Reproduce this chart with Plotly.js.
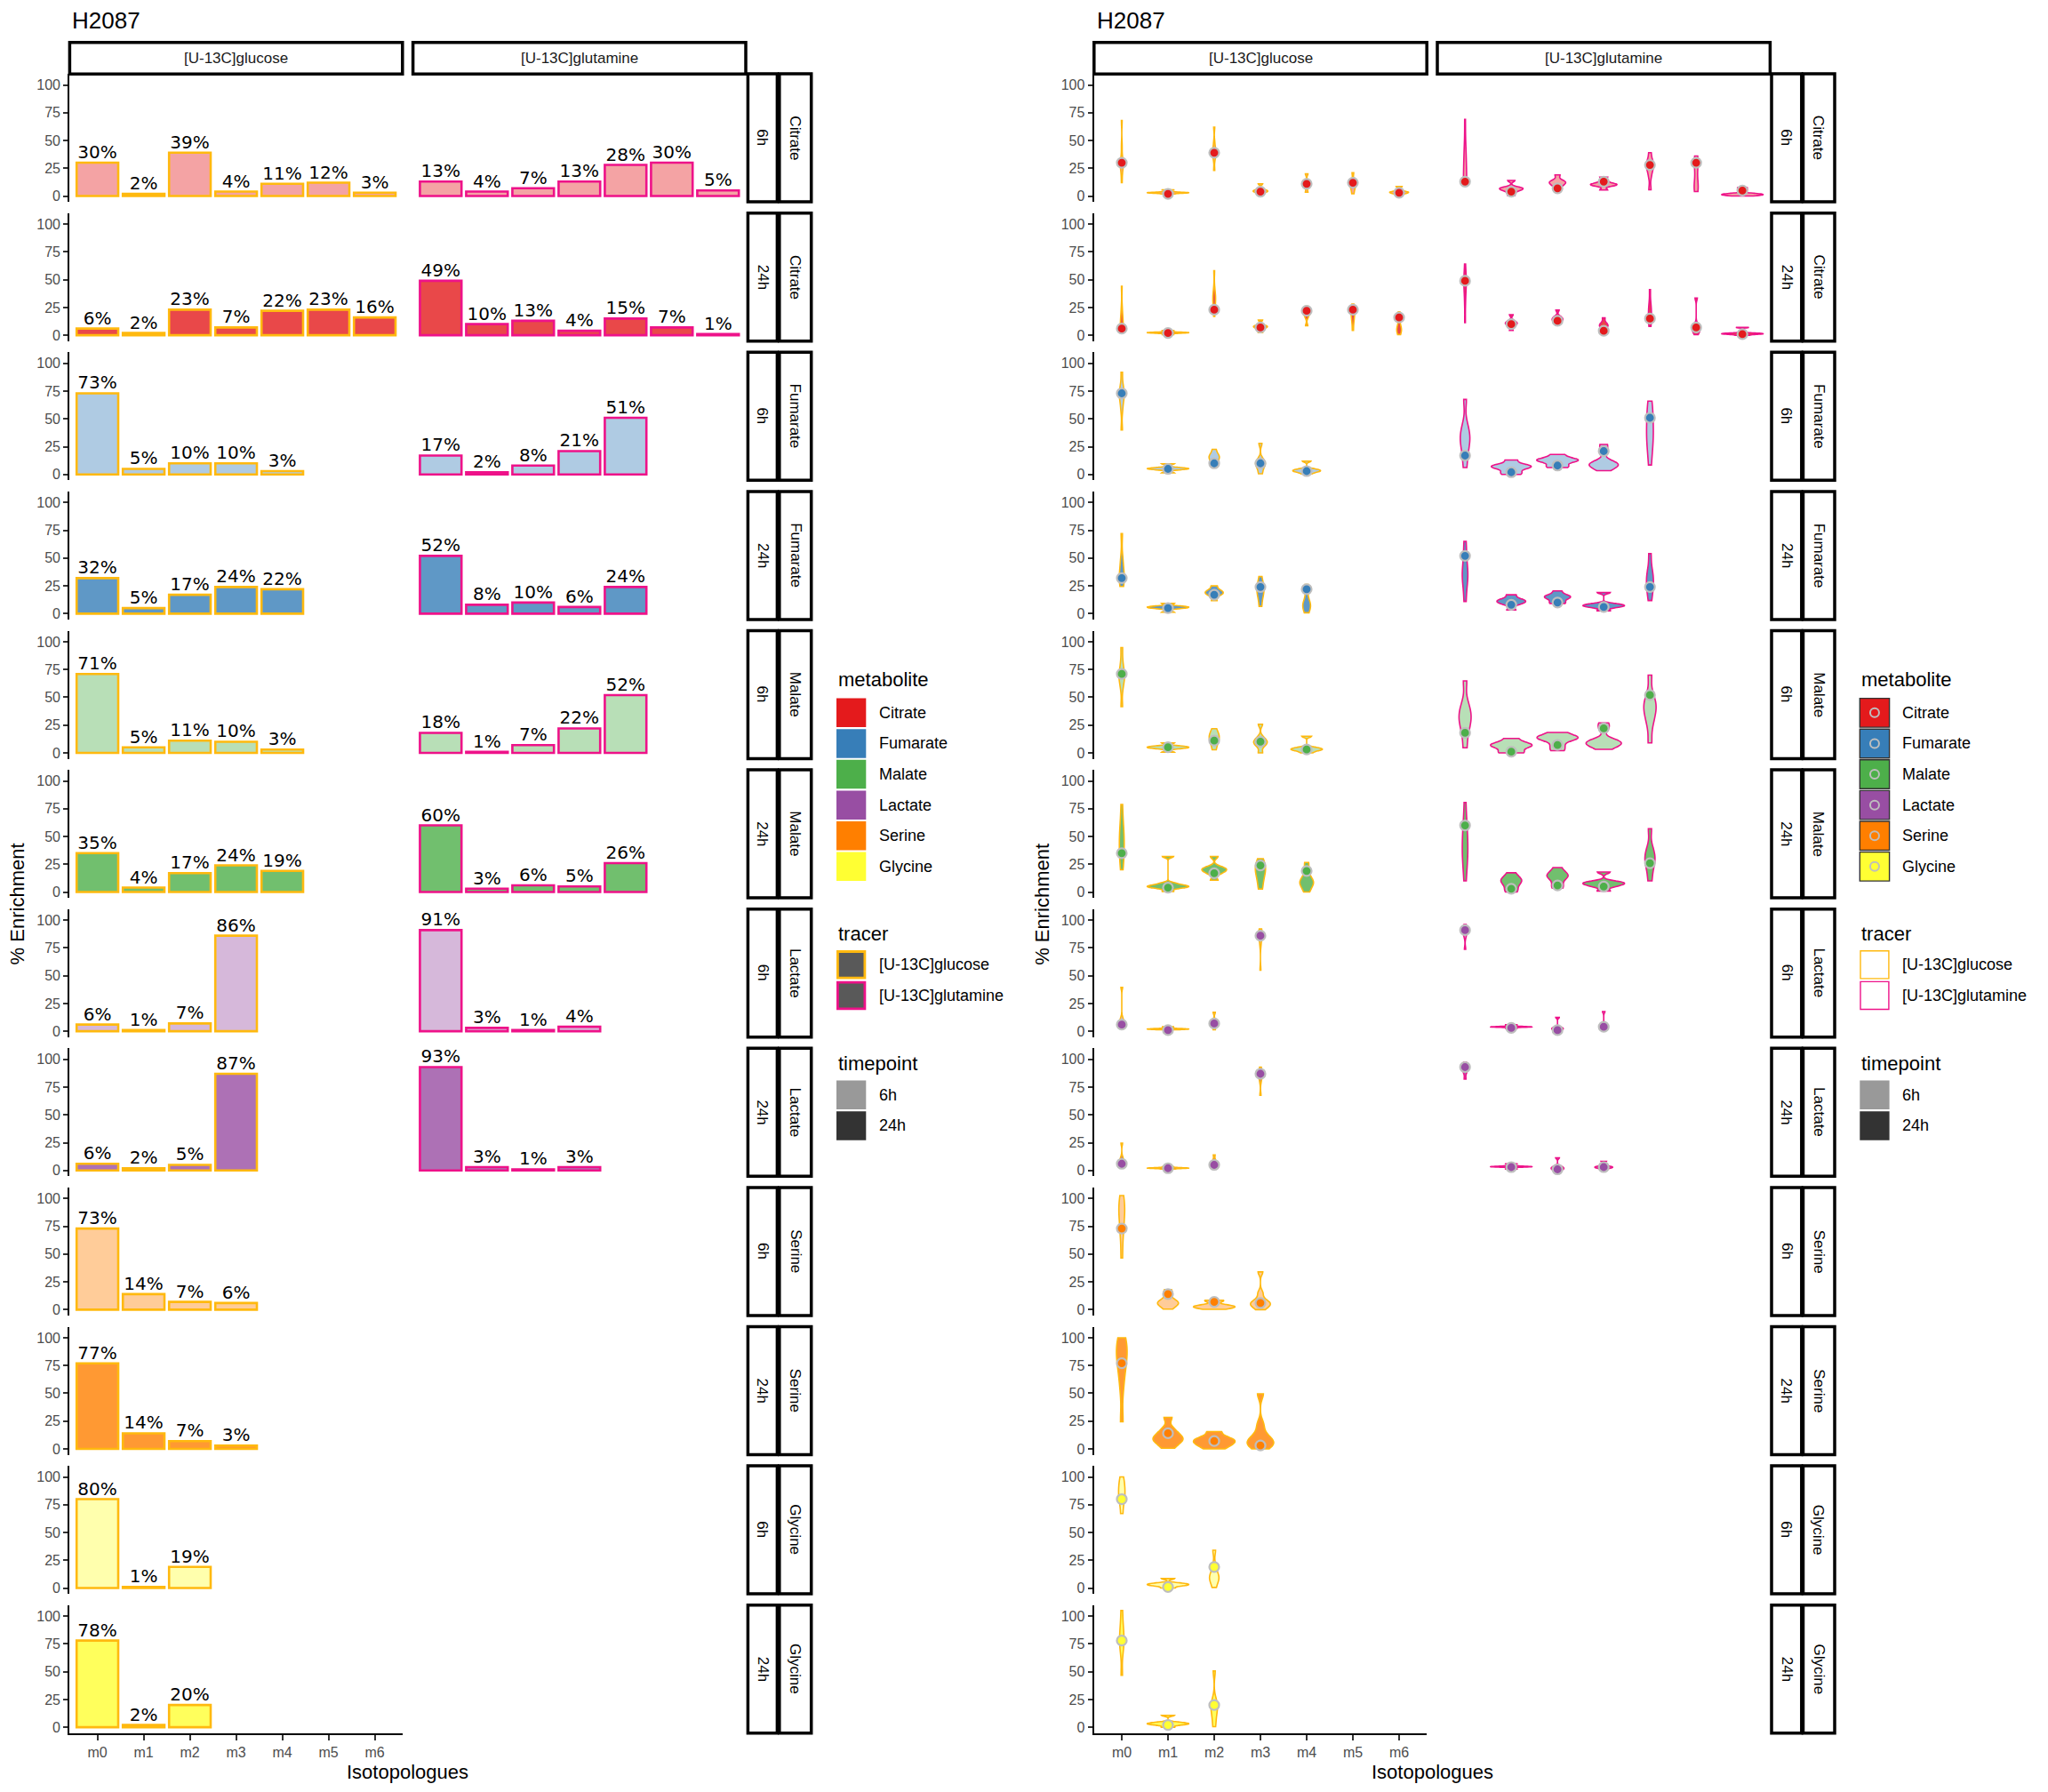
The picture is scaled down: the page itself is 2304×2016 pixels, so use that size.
<!DOCTYPE html>
<html>
<head>
<meta charset="utf-8">
<script src="https://cdn.plot.ly/plotly-3.0.1.min.js"></script>
<style>body{margin:0;background:#fff}</style>
</head>
<body>
<div id="chart" style="width:2304px;height:2016px"></div>
<script>
const isotopologues = ['m0', 'm1', 'm2', 'm3', 'm4', 'm5', 'm6'];
const metabolites = ['Citrate', 'Fumarate', 'Malate', 'Lactate', 'Serine', 'Glycine'];
const timepoints = ['6h', '24h'];
const tracers = ['[U-13C]glucose', '[U-13C]glutamine'];

// mean % enrichment per isotopologue (bar heights / dots)
const citrate6hGlucose = [30, 2, 39, 4, 11, 12, 3];
const citrate6hGlutamine = [13, 4, 7, 13, 28, 30, 5];
const citrate24hGlucose = [6, 2, 23, 7, 22, 23, 16];
const citrate24hGlutamine = [49, 10, 13, 4, 15, 7, 1];
const fumarate6hGlucose = [73, 5, 10, 10, 3];
const fumarate6hGlutamine = [17, 2, 8, 21, 51];
const fumarate24hGlucose = [32, 5, 17, 24, 22];
const fumarate24hGlutamine = [52, 8, 10, 6, 24];
const malate6hGlucose = [71, 5, 11, 10, 3];
const malate6hGlutamine = [18, 1, 7, 22, 52];
const malate24hGlucose = [35, 4, 17, 24, 19];
const malate24hGlutamine = [60, 3, 6, 5, 26];
const lactate6hGlucose = [6, 1, 7, 86];
const lactate6hGlutamine = [91, 3, 1, 4];
const lactate24hGlucose = [6, 2, 5, 87];
const lactate24hGlutamine = [93, 3, 1, 3];
const serine6hGlucose = [73, 14, 7, 6];
const serine24hGlucose = [77, 14, 7, 3];
const glycine6hGlucose = [80, 1, 19];
const glycine24hGlucose = [78, 2, 20];

// replicate values, one list per isotopologue
const citrate6hGlucoseReps = [[12, 22, 26, 29, 30, 33, 45, 68], [1.8, 2.5, 2.8, 3, 3.2, 3.5, 5.5], [23, 33, 37, 39, 40, 42, 48, 62], [0.6, 3, 4, 4.5, 5, 6, 11], [3.4, 8, 10, 11.5, 12, 13, 20], [2, 6, 8, 10, 12, 13, 21], [0.6, 2, 2.8, 3.2, 3.7, 4.2, 8.5]];
const citrate6hGlutamineReps = [[9, 12, 13, 20, 30, 35, 45, 69], [0.5, 4, 5.5, 6.5, 7, 8, 14], [4, 8, 10.5, 12, 12.5, 14, 19], [5.4, 9, 10, 10.5, 11, 13, 17], [5.6, 18, 24, 27, 29, 31, 39], [4, 7, 9, 11, 25, 30, 32, 36], [0, 0.8, 1.2, 1.5, 1.8, 2.2, 5.6, 7.6]];
const citrate24hGlucoseReps = [[2.8, 6, 8, 11, 14, 18, 25, 44], [0.6, 1.8, 2.1, 2.3, 2.5, 2.8, 4.3], [17, 23.6, 28, 32, 34, 36, 42, 58], [2.3, 6, 7, 7.7, 8.2, 9, 13.6], [8.5, 16, 19, 20, 21, 22, 26], [4.3, 12, 16, 19, 22, 23.3, 28], [0.6, 3, 4.5, 5.5, 7, 10, 17, 21]];
const citrate24hGlutamineReps = [[11.4, 28, 38, 44, 48, 50, 55, 64], [4.3, 8.5, 10, 10.8, 11.5, 13, 18.5], [9, 12.5, 13.4, 14.5, 15.5, 17, 22.7], [1.4, 4.3, 7, 8.5, 9.5, 10.5, 15.6], [8, 13, 15, 20, 24, 28, 41], [0.6, 3, 4.5, 6, 7.1, 10, 33.5], [0, 0.8, 1.1, 1.4, 1.6, 2, 7]];
const fumarate6hGlucoseReps = [[40, 58, 66, 70, 72.6, 75, 80, 92], [1.4, 4.2, 4.8, 5.2, 5.6, 6.2, 9.6], [6.2, 9.9, 13, 15, 16.5, 18, 22.6], [0.6, 5, 8, 9.9, 11, 14, 28], [0.5, 2.2, 2.8, 3.5, 4.2, 5, 12]];
const fumarate6hGlutamineReps = [[6.2, 17, 25, 30, 34, 38, 45, 67.5], [0, 2, 5.5, 6.8, 7.6, 8.5, 13], [6.2, 8, 11.5, 12.5, 13.2, 14.5, 18], [3.4, 6.5, 8, 9, 10, 12, 21, 27], [8.5, 22, 30, 36, 42, 51, 58, 66]];
const fumarate24hGlucoseReps = [[24.5, 29, 31.6, 36, 42, 50, 72], [1.3, 4.6, 5.2, 5.8, 6.2, 6.8, 9.2], [11.8, 16.5, 17.6, 19, 20, 21.5, 25], [6.6, 14, 18, 21, 24.2, 27, 33.4], [0.8, 5, 7, 9, 11, 22.4, 26.3]];
const fumarate24hGlutamineReps = [[11, 25, 32, 36, 42, 52, 65], [3.4, 8.4, 10, 11, 12, 13.5, 17], [9.2, 10, 13.5, 14.8, 15.5, 16.5, 20.5], [2.6, 5.5, 6.6, 7.2, 8, 9, 19], [11.8, 20, 24.5, 30, 34, 40, 54]];
const malate6hGlucoseReps = [[41.6, 58, 65, 68, 70.8, 74, 82, 94.7], [0.5, 3.8, 4.5, 5, 5.5, 6.2, 9], [2.7, 8, 10.6, 13.5, 15.5, 17.5, 21.8], [0, 6, 8.5, 9.8, 11, 14, 25.7], [0, 1.8, 2.7, 3.3, 4, 5, 14.9]];
const malate6hGlutamineReps = [[4.5, 17.8, 25, 30, 34, 38, 45, 64.7], [0, 0.5, 5, 6.5, 7.5, 8.5, 13], [1.9, 6.4, 11.5, 13, 14, 15, 18.3], [3.2, 6.5, 8, 9, 10, 12, 21.8, 27], [9, 25, 33, 38, 42, 46, 51.7, 70]];
const malate24hGlucoseReps = [[20, 30, 35.4, 42, 48, 55, 62, 78.7], [0.5, 3.5, 4.3, 5, 5.5, 6.3, 8, 32], [10.6, 16.5, 18.5, 20, 21, 22.5, 32], [2.7, 10, 15, 19, 22, 24.7, 30], [0, 4.5, 7, 8.8, 10.5, 13, 19.4, 26.6]];
const malate24hGlutamineReps = [[10, 25, 32, 38, 45, 55, 60.6, 80.6], [0, 2.1, 7, 9.5, 11, 12.5, 17.3], [3.5, 6.1, 12, 14, 15.5, 17, 22], [0.8, 4.8, 6.5, 7.5, 8.5, 9.5, 18], [10, 20, 26.6, 30, 34, 40, 57]];
const lactate6hGlucoseReps = [[3.4, 5.5, 6.6, 7.5, 9, 12, 39.5], [1.3, 1.7, 1.8, 2, 2.2, 2.5, 4], [1.3, 5, 6.5, 7.4, 8.5, 10, 17], [55, 78, 83, 86, 88, 90, 92]];
const lactate6hGlutamineReps = [[73.7, 85, 88, 90, 91.3, 93, 96], [2.6, 3.6, 3.8, 3.9, 4.1, 4.4, 5.8], [0, 1.2, 1.8, 2.5, 3, 4, 12.4], [0.8, 2.5, 3.5, 4.2, 5.3, 6.5, 17.6]];
const lactate24hGlucoseReps = [[2.9, 5.5, 6.6, 7.5, 9, 12, 24.6], [1.3, 1.8, 2, 2.1, 2.3, 2.6, 3.4], [1.3, 4, 4.8, 6, 7.5, 9, 14], [67.7, 80, 84, 86, 87.3, 89, 93]];
const lactate24hGlutamineReps = [[82.3, 88, 90, 92, 93, 94.5, 97.4], [1.3, 3, 3.3, 3.4, 3.6, 4, 6], [0, 1, 1.6, 2.3, 3, 4, 11.4], [0, 1.8, 2.5, 2.9, 3.3, 4, 8.2]];
const serine6hGlucoseReps = [[46.5, 65, 74, 82, 88, 92, 96, 102.7], [0.5, 3.5, 5, 6, 7.5, 9, 14.4, 18], [0.3, 1.5, 2.2, 2.8, 3.4, 4.2, 7.8, 8.5], [0, 3, 4.5, 5.5, 6.4, 9, 15, 34]];
const serine24hGlucoseReps = [[24.4, 55, 70, 77.5, 84, 90, 95, 100], [0.5, 5, 7.5, 9, 11, 13.8, 18, 28.4], [0, 3, 5, 6.9, 8.5, 10.5, 15.6], [0, 3.2, 5, 6.5, 8.5, 13, 22, 49.6]];
const glycine6hGlucoseReps = [[67, 78, 80.9, 86, 90, 94, 100], [0, 1.9, 2.6, 3.2, 3.8, 4.5, 8.5], [0.5, 6, 8.5, 10.5, 13, 19.7, 34]];
const glycine24hGlucoseReps = [[46.7, 68, 75, 78.7, 85, 92, 105], [0, 2, 2.7, 3.2, 3.8, 4.5, 10.7], [0.5, 8, 14, 18, 20, 25, 50.7]];

// lookup tables: [metabolite][timepoint][tracer]
const barTable = [
  [[citrate6hGlucose, citrate6hGlutamine], [citrate24hGlucose, citrate24hGlutamine]],
  [[fumarate6hGlucose, fumarate6hGlutamine], [fumarate24hGlucose, fumarate24hGlutamine]],
  [[malate6hGlucose, malate6hGlutamine], [malate24hGlucose, malate24hGlutamine]],
  [[lactate6hGlucose, lactate6hGlutamine], [lactate24hGlucose, lactate24hGlutamine]],
  [[serine6hGlucose, null], [serine24hGlucose, null]],
  [[glycine6hGlucose, null], [glycine24hGlucose, null]]
];
const repTable = [
  [[citrate6hGlucoseReps, citrate6hGlutamineReps], [citrate24hGlucoseReps, citrate24hGlutamineReps]],
  [[fumarate6hGlucoseReps, fumarate6hGlutamineReps], [fumarate24hGlucoseReps, fumarate24hGlutamineReps]],
  [[malate6hGlucoseReps, malate6hGlutamineReps], [malate24hGlucoseReps, malate24hGlutamineReps]],
  [[lactate6hGlucoseReps, lactate6hGlutamineReps], [lactate24hGlucoseReps, lactate24hGlutamineReps]],
  [[serine6hGlucoseReps, null], [serine24hGlucoseReps, null]],
  [[glycine6hGlucoseReps, null], [glycine24hGlucoseReps, null]]
];

const metaboliteColors = ['#E41A1C', '#377EB8', '#4DAF4A', '#984EA3', '#FF7F00', '#FFFF33'];
const tracerColors = ['#FFB90F', '#EE1289'];
const timeAlpha = [0.4, 0.8];

const FONT = 'Liberation Sans, Arial, Helvetica, sans-serif';
const W = 2304, H = 2016;
const px = x => x / W;
const py = y => 1 - y / H;

// blend a colour with white, like ggplot alpha on a white background
function fade(hex, a) {
  const n = parseInt(hex.slice(1), 16);
  const ch = [(n >> 16) & 255, (n >> 8) & 255, n & 255].map(v => Math.round(v * a + 255 * (1 - a)));
  return 'rgb(' + ch.join(',') + ')';
}

// R's bw.nrd0, so the violins get the same kernel width as geom_violin
function nrd0(v) {
  const s = v.slice().sort((a, b) => a - b);
  const n = s.length;
  const mean = s.reduce((a, b) => a + b, 0) / n;
  const sd = Math.sqrt(s.reduce((a, b) => a + (b - mean) * (b - mean), 0) / (n - 1));
  const q = f => { const h = (n - 1) * f, lo = Math.floor(h); return s[lo] + (h - lo) * ((s[lo + 1] !== undefined ? s[lo + 1] : s[lo]) - s[lo]); };
  let lo = Math.min(sd, (q(0.75) - q(0.25)) / 1.34);
  if (!(lo > 0)) lo = sd || Math.abs(s[0]) || 1;
  return 0.9 * lo * Math.pow(n, -0.2);
}

const rowTop = r => 83.1 + 156.6 * r;
const rowH = 144;
const panelCols = [[[78.4, 452.8], [464.6, 839.0]], [[1230.8, 1605.2], [1617.0, 1991.4]]];
const stripCols = [[[841.4, 874.4], [876.8, 912.7]], [[1993.0, 2026.8], [2028.5, 2064.0]]];

const layout = {
  width: W, height: H,
  margin: {l: 0, r: 0, t: 0, b: 0},
  showlegend: false,
  paper_bgcolor: 'white',
  plot_bgcolor: 'white',
  font: {family: FONT, color: 'black'},
  violingap: 0.1,
  violingroupgap: 0,
  violinmode: 'overlay',
  bargap: 0.1,
  shapes: [],
  annotations: []
};
const traces = [];

function rect(x0, y0, x1, y1, line, fill, lw) {
  layout.shapes.push({type: 'rect', xref: 'paper', yref: 'paper', x0: px(x0), x1: px(x1), y0: py(y1), y1: py(y0),
    line: {color: line, width: lw}, fillcolor: fill, layer: 'above'});
}
function label(text, x, y, size, opts) {
  layout.annotations.push(Object.assign({text: text, x: px(x), y: py(y), xref: 'paper', yref: 'paper',
    showarrow: false, font: {size: size, color: 'black', family: FONT}, xanchor: 'center', yanchor: 'middle'}, opts || {}));
}

for (let p = 0; p < 2; p++) {
  for (let r = 0; r < 12; r++) {
    const m = Math.floor(r / 2), t = r % 2;
    const top = rowTop(r);
    const bottom = r === 11;
    for (let c = 0; c < 2; c++) {
      const k = p * 24 + r * 2 + c + 1;
      const sfx = k === 1 ? '' : String(k);
      const [x0, x1] = panelCols[p][c];
      layout['xaxis' + sfx] = {
        domain: [px(x0), px(x1)], anchor: 'y' + sfx,
        type: 'category', categoryorder: 'array', categoryarray: isotopologues,
        range: [-0.6, 6.6], showgrid: false, zeroline: false, fixedrange: true,
        showline: bottom, linecolor: 'black', linewidth: 2.2,
        ticks: bottom ? 'outside' : '', ticklen: 6, tickwidth: 2, tickcolor: '#333333',
        showticklabels: bottom, tickfont: {size: 16, color: '#4D4D4D', family: FONT}
      };
      layout['yaxis' + sfx] = {
        domain: [py(top + rowH), py(top)], anchor: 'x' + sfx,
        range: [-5.24, 109.95], tickvals: [0, 25, 50, 75, 100],
        showgrid: false, zeroline: false, fixedrange: true,
        showline: c === 0, linecolor: 'black', linewidth: 2.2,
        ticks: c === 0 ? 'outside' : '', ticklen: 5, tickwidth: 2, tickcolor: '#333333',
        showticklabels: c === 0, tickfont: {size: 16, color: '#4D4D4D', family: FONT}
      };

      const vals = barTable[m][t][c];
      if (!vals) continue;
      const cats = isotopologues.slice(0, vals.length);
      const fill = fade(metaboliteColors[m], timeAlpha[t]);
      const xr = 'x' + sfx, yr = 'y' + sfx;

      if (p === 0) {
        traces.push({
          type: 'bar', x: cats, y: vals, width: 0.9, xaxis: xr, yaxis: yr, hoverinfo: 'skip',
          marker: {color: fill, line: {color: tracerColors[c], width: 2.6}}
        });
        traces.push({
          type: 'scatter', mode: 'text', x: cats, y: vals, xaxis: xr, yaxis: yr, hoverinfo: 'skip',
          text: vals.map(v => v + '%'), textposition: 'top center', cliponaxis: false,
          textfont: {size: 20, color: 'black', family: 'DejaVu Sans, ' + FONT}
        });
      } else {
        const reps = repTable[m][t][c];
        // one trace per violin so each gets its own bandwidth; the panel shares one scale group
        reps.forEach((arr, i) => {
          traces.push({
            type: 'violin', x: arr.map(() => isotopologues[i]), y: arr, xaxis: xr, yaxis: yr, hoverinfo: 'skip',
            name: 'v' + k + '_' + i, scalegroup: 'g' + k, scalemode: 'width', spanmode: 'hard',
            bandwidth: nrd0(arr),
            points: false, box: {visible: false}, meanline: {visible: false},
            fillcolor: fill, line: {color: tracerColors[c], width: 1.6}
          });
        });
        traces.push({
          type: 'scatter', mode: 'markers', x: cats, y: vals, xaxis: xr, yaxis: yr, hoverinfo: 'skip',
          cliponaxis: false,
          marker: {size: 11, color: metaboliteColors[m], line: {color: '#BEBEBE', width: 2.2}}
        });
      }
    }
    // right-hand facet strips
    const [s0, s1] = stripCols[p];
    rect(s0[0], top, s0[1], top + rowH, 'black', 'white', 3.5);
    rect(s1[0], top, s1[1], top + rowH, 'black', 'white', 3.5);
    label(timepoints[t], (s0[0] + s0[1]) / 2, top + rowH / 2, 17, {textangle: 90});
    label(metabolites[m], (s1[0] + s1[1]) / 2, top + rowH / 2, 17, {textangle: 90});
  }

  // top facet strips
  for (let c = 0; c < 2; c++) {
    const [x0, x1] = panelCols[p][c];
    rect(x0, 47.7, x1, 83.3, 'black', 'white', 3.5);
    label(tracers[c], (x0 + x1) / 2, 65.5, 17, {font: {size: 17, color: '#1A1A1A', family: FONT}});
  }

  const left = panelCols[p][0][0];
  const right = panelCols[p][1][1];
  label('H2087', left + 1, 23, 26, {xanchor: 'left'});
  label('% Enrichment', left - 59, 1017, 22, {textangle: -90});
  label('Isotopologues', (left + right) / 2, 1993, 22);

  // legends
  const lx = p === 0 ? 941 : 2092.3;
  const tx = p === 0 ? 986.7 : 2138.3;
  const kw = 33.3, kh = 32.5, pitch = 34.6;
  label('metabolite', lx, 764, 22, {xanchor: 'left'});
  metabolites.forEach((name, i) => {
    const y0 = 785.6 + pitch * i;
    if (p === 0) {
      rect(lx, y0, lx + kw, y0 + kh, 'rgba(0,0,0,0)', metaboliteColors[i], 0);
    } else {
      rect(lx, y0, lx + kw, y0 + kh, '#333333', metaboliteColors[i], 1.4);
      const cx = lx + kw / 2, cy = y0 + kh / 2;
      layout.shapes.push({type: 'circle', xref: 'paper', yref: 'paper', x0: px(cx - 5), x1: px(cx + 5),
        y0: py(cy + 5), y1: py(cy - 5), line: {color: '#BEBEBE', width: 2}, fillcolor: 'rgba(0,0,0,0)', layer: 'above'});
    }
    label(name, tx, y0 + kh / 2, 18, {xanchor: 'left'});
  });
  label('tracer', lx, 1050, 22, {xanchor: 'left'});
  tracers.forEach((name, i) => {
    const y0 = 1069.1 + pitch * i;
    if (p === 0) rect(lx + 1.4, y0 + 1.4, lx + kw - 1.4, y0 + kh - 1.4, tracerColors[i], '#595959', 2.8);
    else rect(lx + 0.7, y0 + 0.7, lx + kw - 0.7, y0 + kh - 0.7, tracerColors[i], 'white', 1.4);
    label(name, tx, y0 + kh / 2, 18, {xanchor: 'left'});
  });
  label('timepoint', lx, 1196, 22, {xanchor: 'left'});
  timepoints.forEach((name, i) => {
    const y0 = 1215.6 + pitch * i;
    rect(lx, y0, lx + kw, y0 + kh, 'rgba(0,0,0,0)', i === 0 ? '#999999' : '#333333', 0);
    label(name, tx, y0 + kh / 2, 18, {xanchor: 'left'});
  });
}

Plotly.newPlot('chart', traces, layout, {staticPlot: true});
</script>
</body>
</html>
